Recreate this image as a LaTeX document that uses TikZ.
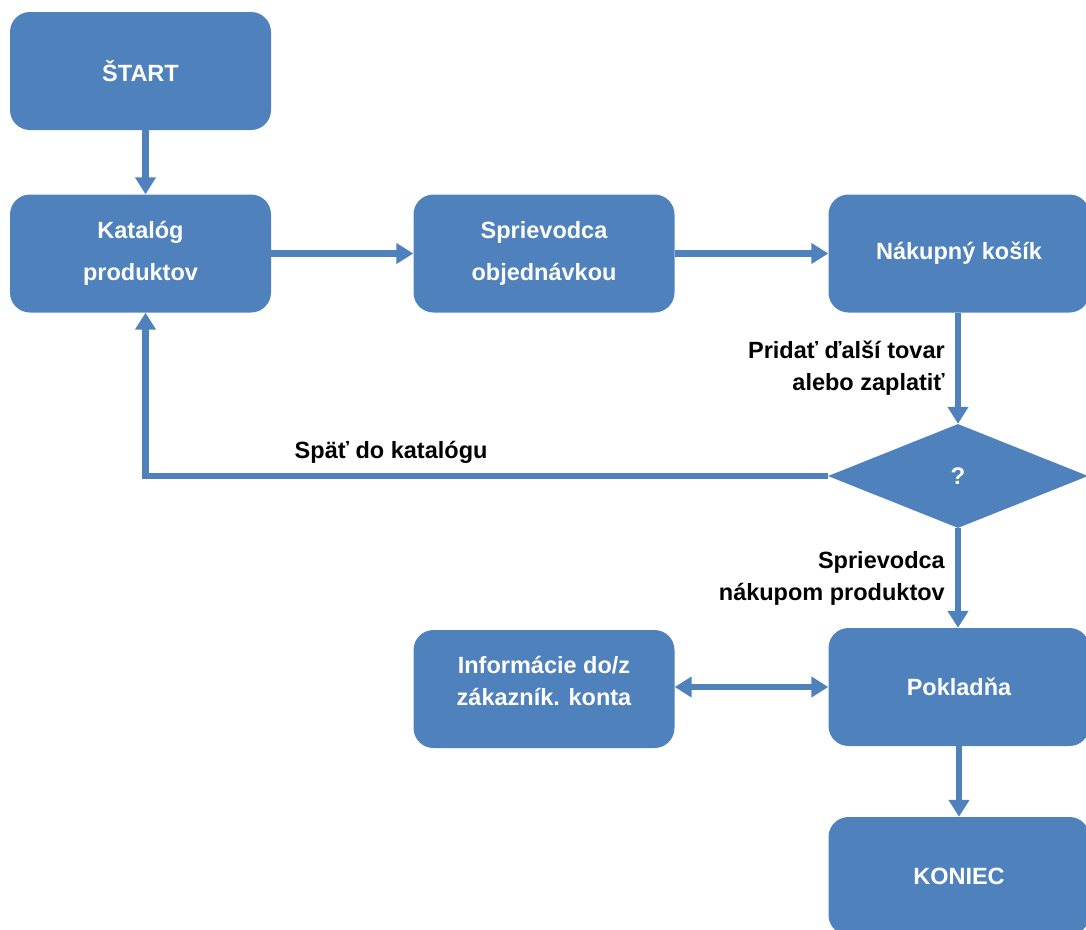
\documentclass[tikz,border=0pt]{standalone}
\usepackage{fontspec}
\setmainfont{Liberation Sans}
\usetikzlibrary{arrows.meta,shapes.geometric}
\definecolor{ofblue}{HTML}{4F81BD}
\begin{document}
\begin{tikzpicture}[x=1pt,y=-1pt,
  box/.style={rectangle, rounded corners=20pt, fill=ofblue, draw=none,
    minimum width=261pt, minimum height=118pt, inner sep=0pt,
    text=white, align=center, font=\bfseries\fontsize{23.5}{42}\selectfont},
  box2/.style={box, font=\bfseries\fontsize{23.5}{32}\selectfont},
  dec/.style={diamond, fill=ofblue, draw=none, minimum width=260pt,
    minimum height=104pt, inner sep=0pt, text=white,
    font=\bfseries\fontsize{24}{26}\selectfont},
  lab/.style={text=black, font=\bfseries\fontsize{23.5}{32}\selectfont, inner sep=0pt},
  conn/.style={draw=ofblue, line width=6.5pt, -{Triangle[width=20pt,length=17pt]}},
  conn2/.style={draw=ofblue, line width=6.5pt, {Triangle[width=20pt,length=17pt]}-{Triangle[width=20pt,length=17pt]}}
]
\useasboundingbox (0,0) rectangle (1086,929);
\node[box] (start) at (140.5,71) {ŠTART};
\node[box] (kat) at (140.5,253.5) {Katalóg\\produktov};
\node[box] (spr) at (544,253.5) {Sprievodca\\objednávkou};
\node[box] (kos) at (959,253.5) {Nákupný košík};
\node[dec] (q) at (958,476) {?};
\node[box2] (info) at (544,689) {Informácie do/z\\zákazník. konta\\[-16pt]};
\node[box] (pok) at (959,687) {Pokladňa};
\node[box] (end) at (959,876) {KONIEC};

\draw[conn] ([xshift=5pt]start.south) -- ([xshift=5pt]kat.north);
\draw[conn] (kat) -- (spr);
\draw[conn] (spr) -- (kos);
\draw[conn] (kos.south -| q.north) -- node[lab, left=10pt, align=right] {Pridať ďalší tovar\\alebo zaplatiť} (q.north);
\draw[conn] (q.west) -| node[lab, pos=0.32, above=9pt] {Späť do katalógu} ([xshift=5pt]kat.south);
\draw[conn] (q.south) -- node[lab, left=10pt, align=right] {Sprievodca\\nákupom produktov} (pok.north -| q.south);
\draw[conn2] (info.east |- pok.west) -- (pok.west);
\draw[conn] (pok) -- (end);
\end{tikzpicture}
\end{document}
